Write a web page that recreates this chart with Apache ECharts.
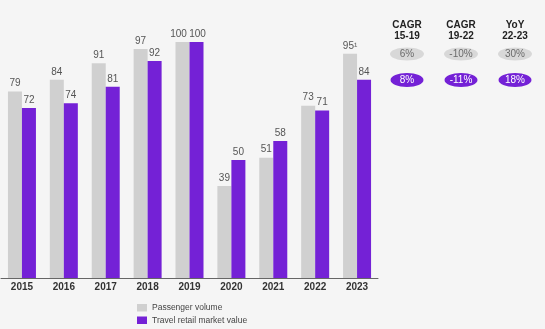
<!DOCTYPE html>
<html>
<head>
<meta charset="utf-8">
<script src="https://cdn.jsdelivr.net/npm/echarts@6/dist/echarts.min.js"></script>
<style>
  html, body { margin: 0; padding: 0; background: #f5f5f5; }
  #chart { width: 545px; height: 329px; }
</style>
</head>
<body>
<div id="chart"></div>
<script>
// Index, 2019 = 100
const years = ['2015', '2016', '2017', '2018', '2019', '2020', '2021', '2022', '2023'];
const passengerVolume = [79, 84, 91, 97, 100, 39, 51, 73, 95];
const passengerLabels = ['79', '84', '91', '97', '100', '39', '51', '73', '95\u00b9'];
const retailValue = [72, 74, 81, 92, 100, 50, 58, 71, 84];

// Growth summary columns on the right
const growthHeaders = [['CAGR', '15-19'], ['CAGR', '19-22'], ['YoY', '22-23']];
const passengerGrowth = ['6%', '-10%', '30%'];
const retailGrowth = ['8%', '-11%', '18%'];

const seriesNames = ['Passenger volume', 'Travel retail market value'];

const GRAY = '#d0d0d0';
const PURPLE = '#7421d6';
const FONT = '"Liberation Sans", Arial, sans-serif';

const chart = echarts.init(document.getElementById('chart'), null, { renderer: 'canvas' });

const colX = [407, 461, 515];
const graphics = [];
growthHeaders.forEach((h, i) => {
  graphics.push({
    type: 'text', x: colX[i], y: 31,
    style: { text: h[0] + '\n' + h[1], fill: '#222', font: 'bold 10px ' + FONT,
             textAlign: 'center', textVerticalAlign: 'middle', lineHeight: 11 }
  });
  graphics.push({
    type: 'ellipse', shape: { cx: colX[i], cy: 54, rx: 17, ry: 6.5 },
    style: { fill: '#d8d8d8' }
  });
  graphics.push({
    type: 'text', x: colX[i], y: 54.5,
    style: { text: passengerGrowth[i], fill: '#6a6a6a', font: '10px ' + FONT,
             textAlign: 'center', textVerticalAlign: 'middle' }
  });
  graphics.push({
    type: 'ellipse', shape: { cx: colX[i], cy: 80, rx: 16.5, ry: 7 },
    style: { fill: PURPLE }
  });
  graphics.push({
    type: 'text', x: colX[i], y: 80.5,
    style: { text: retailGrowth[i], fill: '#ffffff', font: '10px ' + FONT,
             textAlign: 'center', textVerticalAlign: 'middle' }
  });
});

// Legend drawn as two stacked swatches with captions
[GRAY, PURPLE].forEach((c, i) => {
  const y = 304 + i * 12.5;
  graphics.push({ type: 'rect', shape: { x: 137, y: y, width: 10, height: 7.5 }, style: { fill: c } });
  graphics.push({
    type: 'text', x: 152, y: y + 4,
    style: { text: seriesNames[i], fill: '#444', font: '8.5px ' + FONT, textVerticalAlign: 'middle' }
  });
});

// Spread the two 2019 labels apart so they do not collide
const passengerData = passengerVolume.map((v, i) =>
  years[i] === '2019' ? { value: v, label: { offset: [-4, 0] } } : v);
const retailData = retailValue.map((v, i) =>
  years[i] === '2019' ? { value: v, label: { offset: [1, 0] } } : v);

chart.setOption({
  backgroundColor: '#f5f5f5',
  animation: false,
  grid: { left: 1, right: 167, top: 42, bottom: 51, containLabel: false },
  xAxis: {
    type: 'category',
    data: years,
    axisLine: { lineStyle: { color: '#666', width: 1 } },
    axisTick: { show: false },
    axisLabel: { color: '#333', fontWeight: 'bold', fontSize: 10, margin: 4, fontFamily: FONT }
  },
  yAxis: { type: 'value', min: 0, max: 100, show: false, splitLine: { show: false } },
  series: [
    {
      name: seriesNames[0], type: 'bar', data: passengerData, barWidth: 14, barGap: '0%',
      itemStyle: { color: GRAY },
      label: { show: true, position: 'top', distance: 3, color: '#555', fontSize: 10, fontFamily: FONT,
               formatter: p => passengerLabels[p.dataIndex] }
    },
    {
      name: seriesNames[1], type: 'bar', data: retailData, barWidth: 14,
      itemStyle: { color: PURPLE },
      label: { show: true, position: 'top', distance: 3, color: '#555', fontSize: 10, fontFamily: FONT }
    }
  ],
  graphic: graphics
});
</script>
</body>
</html>
